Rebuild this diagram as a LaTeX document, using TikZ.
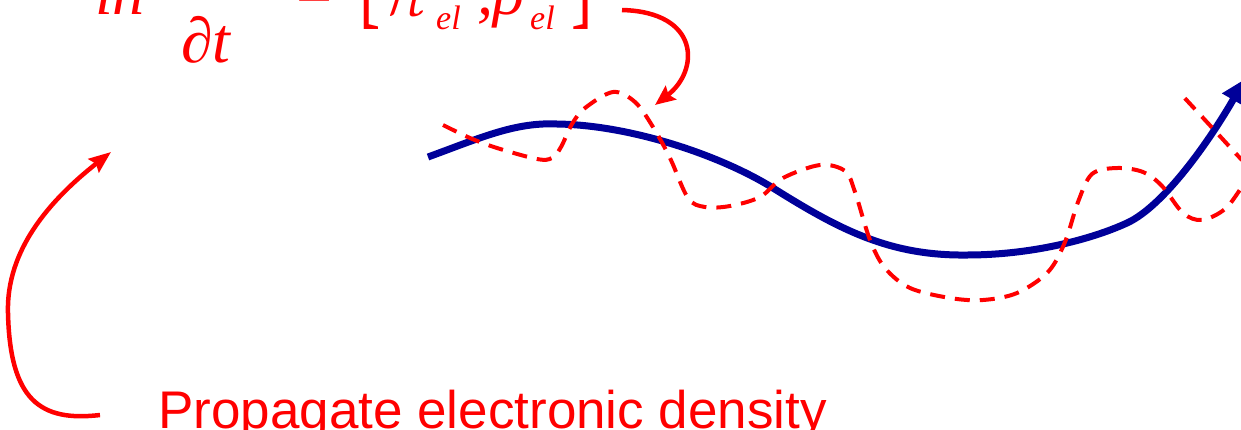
\documentclass[tikz,border=0pt]{standalone}
\usepackage{fontspec}
\usepackage{graphicx}
\setmainfont{Liberation Serif}
\newfontfamily\labelfont{Liberation Sans}
\usetikzlibrary{arrows.meta}
\definecolor{eqred}{RGB}{255,0,0}
\definecolor{pathblue}{RGB}{0,0,153}

\begin{document}
\begin{tikzpicture}[x=1pt,y=-1pt,
    every node/.style={inner sep=0pt,anchor=base west,text=eqred},
    eq/.style={font=\fontsize{64}{64}\selectfont\itshape},
    eqsub/.style={font=\fontsize{34}{34}\selectfont\itshape},
    equp/.style={font=\fontsize{64}{64}\selectfont\upshape}]

\useasboundingbox (0,0) rectangle (1241,429);
\clip (0,0) rectangle (1241,429);

% Equation (cut off at the top)
\node[eq] (ih) at (95,14) {iħ};
\node[eq] (dt) at (181,62) {∂t};
\node[equp] (eqsign) at (296,14) {=};
\node[equp] (lbr) at (359,14) {\scalebox{1}[1.75]{[}};
\node[equp] (ham) at (383,14) {\scalebox{5}{\fontsize{10}{12}\selectfont$\mathcal{H}$}};
\node[eqsub] (hsub) at (436,29) {el};
\node[eq] (comma) at (477,14) {,};
\node[eq] (rho) at (493,14) {ρ};
\node[eqsub] (rhosub) at (530,29) {el};
\node[equp] (rbr) at (571,14) {\scalebox{1}[1.75]{]}};

% Label
\node[font=\fontsize{53}{53}\selectfont\labelfont] (lbl) at (158,428) {Propagate electronic density};

% Curve ends
\coordinate (eqout) at (622,10);
\coordinate (eqin) at (655,105);
\coordinate (lblout) at (100,415);
\coordinate (loopin) at (111,152);
\coordinate (trajstart) at (428,157);
\coordinate (trajend) at (1245,79);

%========================
% Nuclear trajectory
%========================
\draw[pathblue,line width=7pt,-{Triangle[length=24pt,width=24pt]}]
  (trajstart) .. controls (480,138) and (515,122) .. (557,124)
  .. controls (630,125) and (720,155) .. (773,188)
  .. controls (840,230) and (890,256) .. (967,255)
  .. controls (1030,255) and (1090,240) .. (1127,223)
  .. controls (1164,206) and (1210,140) .. (trajend);

%========================
% Electronic density
%========================
\draw[eqred,line width=4pt,dash pattern=on 15pt off 10pt]
  plot[smooth,tension=0.55] coordinates {(443,125) (470,138) (497,148) (537,159)
    (552,158) (561,147) (572,124) (585,108) (613,92) (635,102) (653,127) (670,158)
    (688,198) (705,207) (730,206) (760,197) (783,178) (820,165) (845,171) (855,192)
    (870,240) (885,268) (910,288) (950,298) (983,300) (1017,293) (1048,272)
    (1065,242) (1078,202) (1092,174) (1117,168) (1143,172) (1162,186) (1183,213)
    (1202,220) (1225,209) (1242,187) (1254,172) (1240,158) (1217,133) (1180,93)};

% Arrows
\draw[eqred,line width=4.5pt,-{Stealth[length=20pt,width=17pt,inset=3pt]}]
  (eqout) .. controls (700,12) and (700,70) .. (eqin);
\draw[eqred,line width=4.5pt,-{Stealth[length=22pt,width=17pt,inset=3pt]}]
  (lblout) .. controls (40,422) and (10,400) .. (8,313)
  .. controls (6,250) and (50,200) .. (loopin);

\end{tikzpicture}
\end{document}
